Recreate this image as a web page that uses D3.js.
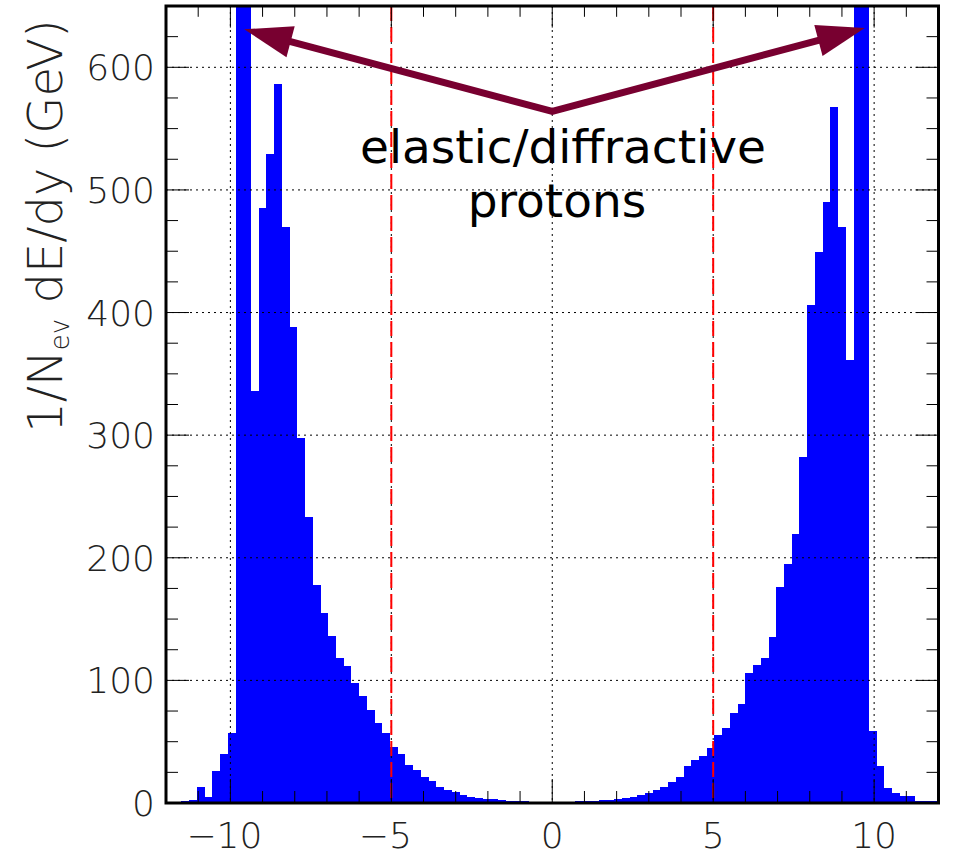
<!DOCTYPE html>
<html>
<head>
<meta charset="utf-8">
<script src="https://cdn.jsdelivr.net/npm/d3@7"></script>
<style>
  body { margin: 0; background: #fff; }
  svg { display: block; }
</style>
</head>
<body>
<div id="chart"></div>
<script>
// Histogram: 100 bins of width 0.24 over y in [-12, 12]
var binLow = -12;
var binWidth = 0.24;

// bin contents (bins 9, 10, 89, 90 run off scale)
var binValues = [
    1, 1, 1.5, 2.2, 13, 4.6, 26, 40, 57, 1200,
    1200, 336, 485, 529, 586, 470, 388, 298, 233, 178,
    155, 136, 118, 112, 98, 87, 76, 65, 57, 46,
    40, 31, 27, 21, 18, 13, 10.6, 8.7, 6.5, 5,
    4.3, 3.5, 3, 2.5, 2, 1.6, 1.3, 1.1, 1, 1,
    1, 1, 1.1, 1.3, 1.6, 1.8, 2.2, 2.7, 3.5, 4.2,
    5, 6.5, 8.4, 10.6, 13, 17.4, 21.5, 30, 35, 38,
    45, 55.5, 61, 73, 80.5, 106, 112.6, 118.5, 135, 176,
    195, 219, 282, 406, 449, 490, 568, 470, 361, 1200,
    1200, 59, 30, 12, 8, 6, 6, 1.4, 1.4, 1.9
];

var xTicks = [-10, -5, 0, 5, 10];
var yTicks = [0, 100, 200, 300, 400, 500, 600];
var cutLines = [-5, 5];

// annotation: arrow from a common vertex to both proton peaks
var arrowVertex = [0, 564];
var arrowTips = [[-9.57, 631], [9.71, 632]];
var labelLines = ["elastic/diffractive", "protons"];

var W = 953, H = 858;
var frame = {left: 166, right: 938.5, top: 6, bottom: 803};

var x = d3.scaleLinear().domain([-12, 12]).range([frame.left, frame.right]);
var y = d3.scaleLinear().domain([0, 650]).range([frame.bottom, frame.top]);

var svg = d3.select("#chart").append("svg")
    .attr("width", W)
    .attr("height", H);

svg.append("rect").attr("width", W).attr("height", H).attr("fill", "#fff");

svg.append("clipPath").attr("id", "clip")
    .append("rect")
    .attr("x", frame.left).attr("y", frame.top)
    .attr("width", frame.right - frame.left)
    .attr("height", frame.bottom - frame.top);

var plot = svg.append("g").attr("clip-path", "url(#clip)");

// Bars
plot.selectAll(".bar")
    .data(binValues)
    .enter().append("rect")
    .attr("class", "bar")
    .attr("x", function(d, i) { return x(binLow + i * binWidth); })
    .attr("width", function(d, i) { return x(binLow + (i + 1) * binWidth) - x(binLow + i * binWidth); })
    .attr("y", function(d) { return y(d); })
    .attr("height", function(d) { return y(0) - y(d); })
    .attr("fill", "#0000ff")
    .attr("shape-rendering", "crispEdges");

// Grid (drawn over the bars)
plot.selectAll(".gx")
    .data(xTicks)
    .enter().append("line")
    .attr("x1", function(d) { return x(d); })
    .attr("x2", function(d) { return x(d); })
    .attr("y1", frame.top).attr("y2", frame.bottom)
    .attr("stroke", "#000").attr("stroke-width", 1)
    .attr("stroke-dasharray", "2,4");

plot.selectAll(".gy")
    .data(yTicks.slice(1))
    .enter().append("line")
    .attr("y1", function(d) { return y(d); })
    .attr("y2", function(d) { return y(d); })
    .attr("x1", frame.left).attr("x2", frame.right)
    .attr("stroke", "#000").attr("stroke-width", 1)
    .attr("stroke-dasharray", "2,4");

// Red cut lines
plot.selectAll(".cut")
    .data(cutLines)
    .enter().append("line")
    .attr("x1", function(d) { return x(d); })
    .attr("x2", function(d) { return x(d); })
    .attr("y1", frame.top).attr("y2", frame.bottom)
    .attr("stroke", "#ff0000").attr("stroke-width", 2)
    .attr("stroke-dasharray", "15,6");

// Ticks on all four sides, pointing inwards
var xMinor = d3.range(-12, 13, 1);
var yMinor = d3.range(0, 651, 25);
var ticks = svg.append("g").attr("stroke", "#000").attr("stroke-width", 1);

xMinor.forEach(function(v) {
    var len = (v % 5 === 0) ? 24 : 12;
    ticks.append("line").attr("x1", x(v)).attr("x2", x(v))
        .attr("y1", frame.bottom).attr("y2", frame.bottom - len);
    ticks.append("line").attr("x1", x(v)).attr("x2", x(v))
        .attr("y1", frame.top).attr("y2", frame.top + len * 0.9);
});
yMinor.forEach(function(v) {
    var len = (v % 100 === 0) ? 23 : 12;
    ticks.append("line").attr("y1", y(v)).attr("y2", y(v))
        .attr("x1", frame.left).attr("x2", frame.left + len);
    ticks.append("line").attr("y1", y(v)).attr("y2", y(v))
        .attr("x1", frame.right).attr("x2", frame.right - len);
});

// Frame
svg.append("rect")
    .attr("x", frame.left).attr("y", frame.top)
    .attr("width", frame.right - frame.left)
    .attr("height", frame.bottom - frame.top)
    .attr("fill", "none").attr("stroke", "#000").attr("stroke-width", 3);

// Tick labels
var labelFont = "'DejaVu Sans', sans-serif";
svg.selectAll(".xl")
    .data(xTicks)
    .enter().append("text")
    .attr("x", function(d) { return x(d) - (d < 0 ? 6 : 0); })
    .attr("y", 848)
    .attr("text-anchor", "middle")
    .style("font-family", labelFont)
    .style("font-size", "36px")
    .style("font-weight", 200)
    .attr("fill", "#222")
    .text(function(d) { return d < 0 ? "\u2212" + Math.abs(d) : d; });

svg.selectAll(".yl")
    .data(yTicks)
    .enter().append("text")
    .attr("x", 155)
    .attr("y", function(d) { return y(d) + 13; })
    .attr("text-anchor", "end")
    .style("font-family", labelFont)
    .style("font-size", "36px")
    .style("font-weight", 200)
    .attr("fill", "#222")
    .text(function(d) { return d; });

// Y-axis title
var ytitle = svg.append("text")
    .attr("transform", "translate(62,226) rotate(-90)")
    .attr("text-anchor", "middle")
    .style("font-family", labelFont)
    .style("font-size", "48px")
    .style("font-weight", 200)
    .attr("fill", "#222");
ytitle.append("tspan").text("1/N");
ytitle.append("tspan").attr("baseline-shift", "-25%").style("font-size", "26px").text("ev");
ytitle.append("tspan").text(" dE/dy (GeV)");

// Arrows: one bent shaft with a sharp vertex, plus two heads
var arrowColor = "#780030";
var vx = x(arrowVertex[0]), vy = y(arrowVertex[1]);
var headLen = 48, headHalf = 16;
var shaftEnds = [];
arrowTips.forEach(function(t) {
    var tx = x(t[0]), ty = y(t[1]);
    var dx = vx - tx, dy = vy - ty;
    var L = Math.sqrt(dx * dx + dy * dy);
    var ux = dx / L, uy = dy / L;
    var bx = tx + ux * headLen, by = ty + uy * headLen;
    shaftEnds.push([bx - ux * 2, by - uy * 2]);
    svg.append("path")
        .attr("d", "M" + tx + "," + ty +
            "L" + (bx - uy * headHalf) + "," + (by + ux * headHalf) +
            "L" + (bx + uy * headHalf) + "," + (by - ux * headHalf) + "Z")
        .attr("fill", arrowColor);
});
svg.append("path")
    .attr("d", d3.line()([shaftEnds[0], [vx, vy], shaftEnds[1]]))
    .attr("stroke", arrowColor).attr("stroke-width", 7)
    .attr("stroke-linejoin", "miter").attr("stroke-miterlimit", 10)
    .attr("fill", "none");

// Annotation text
svg.selectAll(".ann")
    .data(labelLines)
    .enter().append("text")
    .attr("x", function(d, i) { return i === 0 ? 563 : 557; })
    .attr("y", function(d, i) { return 163 + i * 54; })
    .attr("text-anchor", "middle")
    .style("font-family", "'DejaVu Sans', sans-serif")
    .style("font-size", "47px")
    .attr("fill", "#000")
    .text(function(d) { return d; });
</script>
</body>
</html>
